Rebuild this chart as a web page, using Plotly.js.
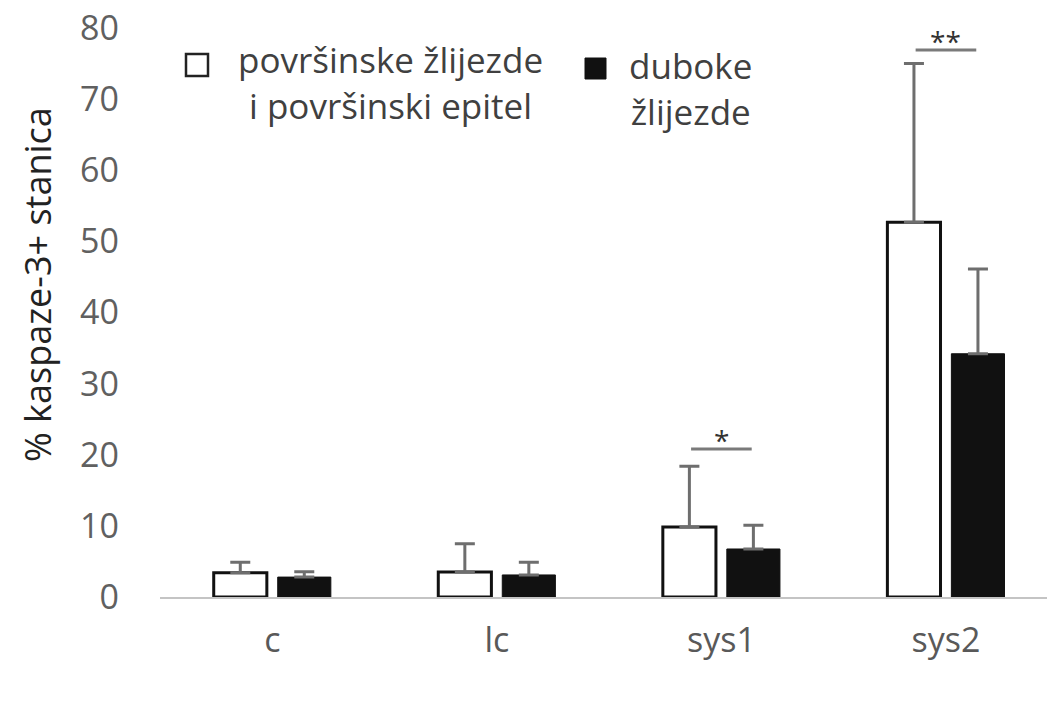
<!DOCTYPE html>
<html>
<head>
<meta charset="utf-8">
<script src="https://cdn.plot.ly/plotly-3.0.1.min.js"></script>
<style>html,body{margin:0;padding:0;background:#fff;}#chart{width:1047px;height:701px;}</style>
</head>
<body>
<div id="chart"></div>
<script>
// Data
const categories = ['c', 'lc', 'sys1', 'sys2'];
const surfaceMeans = [3.4, 3.5, 9.85, 52.7];
const surfaceErrPlus = [1.5, 4.0, 8.55, 22.3];
const deepMeans = [2.8, 3.1, 6.75, 34.2];
const deepErrPlus = [0.75, 1.8, 3.35, 11.9];
const sigLevels = [null, null, 20.8, 76.9];
const sigLabels = ['', '', '*', '**'];
const seriesNames = ['površinske žlijezde<br>i površinski epitel', 'duboke<br>žlijezde'];
const yTitle = '% kaspaze-3+ stanica';

const errStyle = {type: 'data', symmetric: false, color: '#6e6e6e', thickness: 3, width: 10};

const traces = [
  {
    type: 'bar', name: seriesNames[0], x: categories, y: surfaceMeans,
    marker: {color: '#ffffff', line: {color: '#111111', width: 3}},
    error_y: Object.assign({array: surfaceErrPlus, arrayminus: surfaceMeans.map(() => 0)}, errStyle)
  },
  {
    type: 'bar', name: seriesNames[1], x: categories, y: deepMeans,
    marker: {color: '#111111', line: {color: '#111111', width: 1}},
    error_y: Object.assign({array: deepErrPlus, arrayminus: deepMeans.map(() => 0)}, errStyle)
  }
];

const shapes = [];
const annotations = [];
sigLevels.forEach((lvl, i) => {
  if (lvl === null) return;
  shapes.push({type: 'line', xref: 'x', yref: 'y', x0: i - 0.135, x1: i + 0.135, y0: lvl, y1: lvl,
    line: {color: '#7a7a7a', width: 3}});
  annotations.push({xref: 'x', yref: 'y', x: i, y: lvl, yanchor: 'bottom', yshift: -12, showarrow: false,
    text: sigLabels[i], font: {family: 'Open Sans', size: 28, color: '#333'}});
});

// Legend (drawn manually to match centered two-line labels)
const px = (v) => (v - 160) / 887;
const py = (v) => 1 - (v - 28) / 569;
shapes.push({type: 'rect', xref: 'paper', yref: 'paper', x0: px(186), x1: px(208),
  y0: py(76), y1: py(54), line: {color: '#222', width: 2.5}, fillcolor: '#fff'});
shapes.push({type: 'rect', xref: 'paper', yref: 'paper', x0: px(585), x1: px(606),
  y0: py(79), y1: py(58), line: {color: '#111', width: 1}, fillcolor: '#111'});
annotations.push({xref: 'paper', yref: 'paper', x: px(390), y: py(83),
  xanchor: 'center', yanchor: 'middle', align: 'center', showarrow: false, text: seriesNames[0],
  font: {family: 'Open Sans', size: 35, color: '#404040'}});
annotations.push({xref: 'paper', yref: 'paper', x: px(690), y: py(88),
  xanchor: 'center', yanchor: 'middle', align: 'center', showarrow: false, text: seriesNames[1],
  font: {family: 'Open Sans', size: 35, color: '#404040'}});
// Y axis title
annotations.push({xref: 'paper', yref: 'paper', x: -(160 - 37) / 887, y: py(285),
  xanchor: 'center', yanchor: 'middle', textangle: -90, showarrow: false, text: yTitle,
  font: {family: 'Open Sans', size: 36, color: '#222'}});

const layout = {
  width: 1047, height: 701,
  margin: {l: 160, r: 0, t: 28, b: 104},
  paper_bgcolor: '#fff', plot_bgcolor: '#fff',
  showlegend: false,
  barmode: 'group', bargap: 0.43, bargroupgap: 0.17,
  xaxis: {
    type: 'category', range: [-0.5, 3.45], showgrid: false, zeroline: false,
    showline: true, linecolor: '#c4c4c4', linewidth: 2, ticks: '',
    tickfont: {family: 'Open Sans', size: 34, color: '#595959'}, ticklabelstandoff: 12
  },
  yaxis: {
    range: [0, 80], dtick: 10, showgrid: false, zeroline: false, showline: false, ticks: '',
    tickfont: {family: 'Open Sans', size: 34, color: '#606060'}, ticklabelstandoff: 40
  },
  shapes: shapes,
  annotations: annotations
};

Plotly.newPlot('chart', traces, layout, {displayModeBar: false, staticPlot: true});
</script>
</body>
</html>
